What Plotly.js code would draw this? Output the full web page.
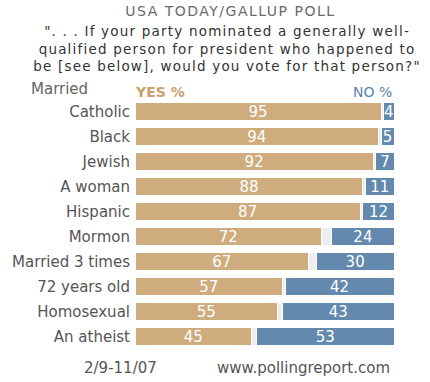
<!DOCTYPE html>
<html><head><meta charset="utf-8">
<script src="https://cdn.plot.ly/plotly-3.0.1.min.js"></script>
<style>body{margin:0;background:#fff}#chart{width:430px;height:382px}</style>
</head><body><div id="chart"></div>
<script>
const categories = ["Catholic","Black","Jewish","A woman","Hispanic","Mormon","Married 3 times","72 years old","Homosexual","An atheist"];
const yesValues = [95,94,92,88,87,72,67,57,55,45];
const noValues = [4,5,7,11,12,24,30,42,43,53];
const otherValues = yesValues.map((v,i)=>100-v-noValues[i]);

const F = "DejaVu Sans, Verdana, sans-serif";
const traces = [
  {type:'bar', orientation:'h', y:categories, x:yesValues, name:'YES %',
   marker:{color:'#cfac7e', line:{color:'#ffffff', width:1}},
   text:yesValues.map(String), textposition:'inside', insidetextanchor:'middle', constraintext:'none',
   textfont:{color:'#ffffff', size:15, family:F}, hoverinfo:'x+y'},
  {type:'bar', orientation:'h', y:categories, x:otherValues, name:'Other',
   marker:{color:'#eeeeee', line:{color:'#ffffff', width:1}}, hoverinfo:'skip'},
  {type:'bar', orientation:'h', y:categories, x:noValues, name:'NO %',
   marker:{color:'#6489ae', line:{color:'#ffffff', width:1}},
   text:noValues.map(String), textposition:'inside', insidetextanchor:'middle', constraintext:'none',
   textfont:{color:'#ffffff', size:15, family:F}, hoverinfo:'x+y'}
];
const layout = {
  width:430, height:382, barmode:'stack', bargap:0.25, showlegend:false,
  margin:{l:135, r:36, t:99, b:33},
  paper_bgcolor:'#ffffff', plot_bgcolor:'#ffffff',
  font:{family:F, color:'#555555', size:15},
  xaxis:{range:[0,100], visible:false, fixedrange:true},
  yaxis:{autorange:'reversed', showgrid:false, zeroline:false, showline:false,
         ticks:'outside', ticklen:1, tickcolor:'rgba(0,0,0,0)',
         tickfont:{family:F, size:15, color:'#555555'}},
  annotations:[
    {xref:'paper', yref:'paper', x:0.37, y:1, yshift:88, text:'USA TODAY/GALLUP POLL', showarrow:false, xanchor:'center', yanchor:'middle', font:{family:F, size:14, color:'#6a6a6a'}},
    {xref:'paper', yref:'paper', x:0.355, y:1, yshift:51, text:'". . . If your party nominated a generally well-<br>qualified person for president who happened to<br>be [see below], would you vote for that person?"', showarrow:false, xanchor:'center', yanchor:'middle', align:'center', font:{family:F, size:13.5, color:'#333333'}},
    {xref:'paper', yref:'paper', x:0, y:1, xshift:-106, yshift:10, text:'Married', showarrow:false, xanchor:'left', yanchor:'middle', font:{family:F, size:15, color:'#666666'}},
    {xref:'paper', yref:'paper', x:0, y:1, xshift:-2, yshift:7, text:'<b>YES %</b>', showarrow:false, xanchor:'left', yanchor:'middle', font:{family:F, size:14, color:'#c9a06a'}},
    {xref:'paper', yref:'paper', x:1, y:1, yshift:7, text:'NO %', showarrow:false, xanchor:'right', yanchor:'middle', font:{family:F, size:14, color:'#5b84ab'}},
    {xref:'paper', yref:'paper', x:0, y:0, xshift:-15, yshift:-19, text:'2/9-11/07', showarrow:false, xanchor:'center', yanchor:'middle', font:{family:F, size:15, color:'#555555'}},
    {xref:'paper', yref:'paper', x:0.65, y:0, yshift:-19, text:'www.pollingreport.com', showarrow:false, xanchor:'center', yanchor:'middle', font:{family:F, size:15, color:'#555555'}}
  ]
};
Plotly.newPlot('chart', traces, layout, {displayModeBar:false, staticPlot:true}).then(function(gd){
  const texts = gd.querySelectorAll('.annotation-text');
  if (texts[0]) texts[0].style.letterSpacing = '1.5px';
  if (texts[1]) texts[1].style.letterSpacing = '1.2px';
});
</script></body></html>
